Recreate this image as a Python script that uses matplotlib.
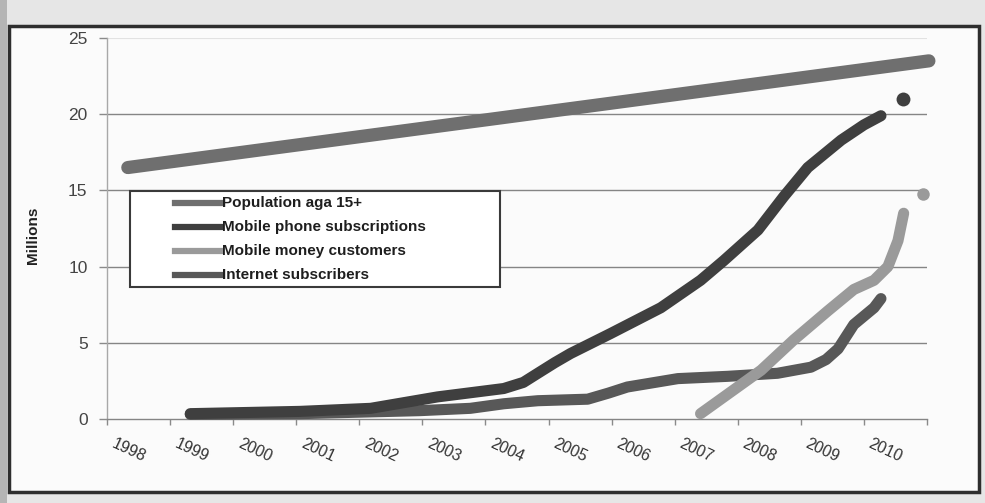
import matplotlib
matplotlib.use("Agg")
import matplotlib.pyplot as plt
from matplotlib.patches import Rectangle
from matplotlib.lines import Line2D
import matplotlib.transforms as mtransforms

plt.rcParams['font.family'] = ['Liberation Sans', 'DejaVu Sans']

# ---------------- data ----------------
categories = ['1998', '1999', '2000', '2001', '2002', '2003', '2004',
              '2005', '2006', '2007', '2008', '2009', '2010']

pop_x = [1997.83, 2010.53]
pop_y = [16.5, 23.5]

phone_x = [1998.82, 2000.56, 2001.68, 2002.74, 2003.79, 2004.10, 2004.33,
           2004.60, 2004.85, 2005.48, 2006.28, 2006.91, 2007.28, 2007.82,
           2008.23, 2008.61, 2009.14, 2009.50, 2009.77]
phone_y = [0.35, 0.5, 0.7, 1.45, 2.0, 2.4, 3.0, 3.7, 4.3, 5.6, 7.3, 9.1,
           10.4, 12.4, 14.6, 16.5, 18.3, 19.3, 19.9]
phone_dot_x = [2010.12]
phone_dot_y = [21.0]

money_x = [2006.91, 2007.87, 2008.39, 2008.93, 2009.34, 2009.66, 2009.88,
           2010.04, 2010.13]
money_y = [0.35, 3.2, 5.2, 7.1, 8.5, 9.1, 10.0, 11.7, 13.5]
money_dot_x = [2010.44]
money_dot_y = [14.75]

net_x = [1998.82, 2000.56, 2002.47, 2003.26, 2003.79, 2004.33, 2005.12,
         2005.45, 2005.75, 2006.55, 2007.34, 2008.13, 2008.66, 2008.90,
         2009.09, 2009.34, 2009.66, 2009.77]
net_y = [0.3, 0.35, 0.55, 0.7, 1.0, 1.2, 1.3, 1.7, 2.1, 2.65, 2.8, 3.0,
         3.4, 3.9, 4.6, 6.2, 7.3, 7.9]

series_labels = ['Population aga 15+', 'Mobile phone subscriptions',
                 'Mobile money customers', 'Internet subscribers']
yticks = [0, 5, 10, 15, 20, 25]

# ---------------- style ----------------
c_pop = '#6f6f6f'
c_phone = '#3f3f3f'
c_money = '#9a9a9a'
c_net = '#585858'

W, H = 985, 503
fig = plt.figure(figsize=(W / 100, H / 100), dpi=100)
fig.patch.set_facecolor('#e6e6e6')

def fx(px):
    return px / W

def fy(py):
    return 1 - py / H

# outer frame of the scanned chart
fig.add_artist(Rectangle((fx(9), fy(492)), fx(979) - fx(9), fy(26) - fy(492),
                         transform=fig.transFigure, facecolor='#fbfbfb',
                         edgecolor='#2e2e2e', lw=2.5, zorder=0))
# darker strip at very left
fig.add_artist(Rectangle((0, 0), fx(7), 1, transform=fig.transFigure,
                         facecolor='#b5b5b5', edgecolor='none', zorder=0))

ax = fig.add_axes([fx(107), fy(419), fx(927) - fx(107), fy(38) - fy(419)])
ax.set_facecolor('none')
ax.set_xlim(1997.5, 2010.5)
ax.set_ylim(0, 25)

# grid
for v in yticks[1:-1]:
    ax.axhline(v, color='#858585', lw=1.0, zorder=1)
ax.axhline(25, color='#e2e2e2', lw=0.8, zorder=1)

for s in ['top', 'right']:
    ax.spines[s].set_visible(False)
ax.spines['left'].set_color('#a8a8a8')
ax.spines['left'].set_linewidth(1.0)
ax.spines['bottom'].set_color('#858585')
ax.spines['bottom'].set_linewidth(1.0)

ax.set_yticks(yticks)
ax.set_yticklabels([str(v) for v in yticks])
ax.tick_params(axis='y', direction='out', length=6, width=1, color='#8a8a8a',
               labelsize=12.5, labelcolor='#444444', pad=8)

centers = [1998 + i for i in range(len(categories))]
ax.set_xticks(centers)
ax.set_xticklabels(categories, rotation=-25, ha='center', va='top',
                   rotation_mode='default')
ax.tick_params(axis='x', which='major', length=0, labelsize=11.5,
               labelcolor='#333333', pad=12)
ax.set_xticks([1997.5 + k for k in range(len(categories) + 1)], minor=True)
ax.tick_params(axis='x', which='minor', direction='out', length=4, width=1,
               color='#8a8a8a')
offset = mtransforms.ScaledTranslation(-10 / 100, 0, fig.dpi_scale_trans)
for lab in ax.get_xticklabels():
    lab.set_transform(lab.get_transform() + offset)

# lines
kw = dict(solid_capstyle='round', solid_joinstyle='round', clip_on=False)
ax.plot(pop_x, pop_y, color=c_pop, lw=9.5, zorder=4, **kw)
ax.plot(net_x, net_y, color=c_net, lw=8, zorder=3, **kw)
ax.plot(money_x, money_y, color=c_money, lw=8, zorder=4, **kw)
ax.plot(phone_x, phone_y, color=c_phone, lw=8, zorder=5, **kw)
ax.plot(phone_dot_x, phone_dot_y, 'o', color=c_phone, ms=10, mec='none',
        clip_on=False, zorder=5)
ax.plot(money_dot_x, money_dot_y, 'o', color=c_money, ms=9, mec='none',
        clip_on=False, zorder=5)

# y axis title
fig.text(fx(33), fy(235), 'Millions', rotation=90, ha='center', va='center',
         fontsize=11, fontweight='bold', color='#222222')

# legend (drawn as a framed box)
fig.add_artist(Rectangle((fx(130), fy(287)), fx(500) - fx(130), fy(191) - fy(287),
                         transform=fig.transFigure, facecolor='white',
                         edgecolor='#3a3a3a', lw=1.5, zorder=6))
rows = [203, 227, 251, 275]
cols = [c_pop, c_phone, c_money, c_net]
for r, c, lab in zip(rows, cols, series_labels):
    fig.add_artist(Line2D([fx(175), fx(220)], [fy(r), fy(r)],
                          transform=fig.transFigure, color=c, lw=4.5, zorder=7))
    fig.text(fx(222), fy(r), lab, ha='left', va='center', fontsize=11,
             fontweight='bold', color='#1e1e1e', zorder=7)

fig.savefig('out.png', dpi=100, facecolor=fig.get_facecolor())
